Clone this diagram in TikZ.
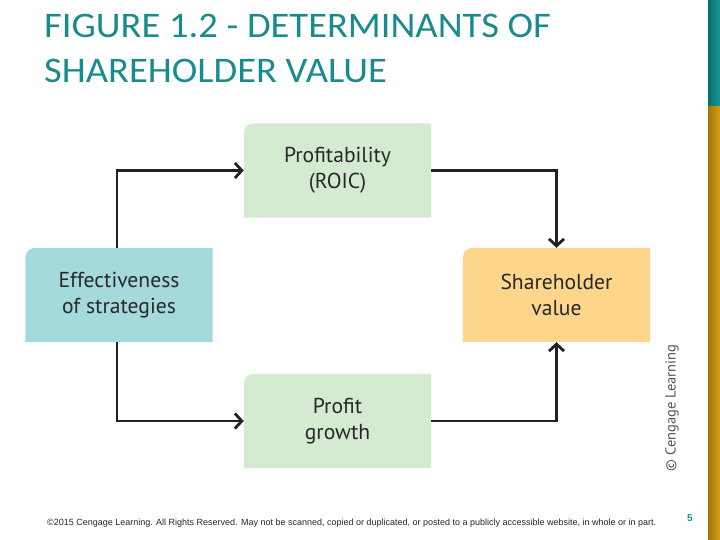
\documentclass[tikz,border=0pt]{standalone}
\usepackage{fontspec}
\setmainfont{PT Sans}
\newfontfamily\titlefont{Carlito}
\newfontfamily\footfont{Liberation Sans}
\usetikzlibrary{arrows.meta,backgrounds}
\definecolor{titleteal}{RGB}{24,140,140}
\definecolor{boxgreen}{RGB}{212,234,209}
\definecolor{boxblue}{RGB}{164,218,220}
\definecolor{boxorange}{RGB}{253,214,140}
\definecolor{txtgray}{RGB}{40,40,40}
\definecolor{linegray}{RGB}{34,34,34}
\definecolor{goldA}{RGB}{160,118,8}
\definecolor{goldB}{RGB}{214,160,22}
\definecolor{tealA}{RGB}{10,110,112}
\definecolor{tealB}{RGB}{24,150,150}
\tikzset{
  boxnode/.style={rectangle, minimum width=187pt, minimum height=94pt, inner sep=0pt,
    align=center, text=txtgray, font=\fontsize{21.6}{26}\selectfont},
  conn/.style={line width=2.8pt, draw=linegray,
    -{Straight Barb[length=7pt,width=15pt,line width=2.8pt]}},
}
\begin{document}
\begin{tikzpicture}[x=1pt,y=-1pt]
\useasboundingbox (0,0) rectangle (720,540);
% right bars
\shade[left color=tealA,right color=tealB] (708,0) rectangle (720,107);
\shade[left color=goldA,right color=goldB] (708,107) rectangle (720,540);
% title
\node[anchor=base west, inner sep=0pt, text=titleteal,
  font=\titlefont\fontsize{36}{45}\selectfont] (title1) at (44,38)
  {\scalebox{1.07}[1]{FIGURE 1.2 - DETERMINANTS OF}};
\node[anchor=base west, inner sep=0pt, text=titleteal,
  font=\titlefont\fontsize{36}{45}\selectfont] (title2) at (44,83)
  {\scalebox{1.07}[1]{SHAREHOLDER VALUE}};
% boxes
\node[boxnode] (prof) at (337.5,170.5) {Profitability\\(ROIC)};
\node[boxnode] (growth) at (337.5,421) {Profit\\growth};
\node[boxnode] (eff) at (119,295) {Effectiveness\\of strategies};
\node[boxnode] (sh) at (556.5,295) {Shareholder\\value};
\begin{scope}[on background layer]
\foreach \n/\c in {prof/boxgreen,growth/boxgreen,eff/boxblue,sh/boxorange}{
  \fill[\c] (\n.south west) -- ([yshift=-10pt]\n.north west)
    arc[start angle=180,end angle=90,radius=10pt] -- (\n.north east)
    -- (\n.south east) -- cycle;
}
\end{scope}
% connectors
\draw[conn] ([xshift=-2pt]eff.north) |- (prof.west);
\draw[conn] ([xshift=-2pt]eff.south) |- (growth.west);
\draw[conn] (prof.east) -| (sh.north);
\draw[conn] (growth.east) -| (sh.south);
% credit
\node[rotate=90, text=txtgray!80, font=\fontsize{14.5}{16}\selectfont, inner sep=0pt] (credit) at (672,408) {© Cengage Learning};
% footer
\node[anchor=west, inner sep=0pt, font=\footfont\fontsize{9}{10}\selectfont, text=black!85] (foot) at (47,523)
  {©2015 Cengage Learning. All Rights Reserved. May not be scanned, copied or duplicated, or posted to a publicly accessible website, in whole or in part.};
\node[inner sep=0pt, text=titleteal, font=\footfont\bfseries\fontsize{10}{12}\selectfont] (pnum) at (690,518) {5};
\end{tikzpicture}
\end{document}
